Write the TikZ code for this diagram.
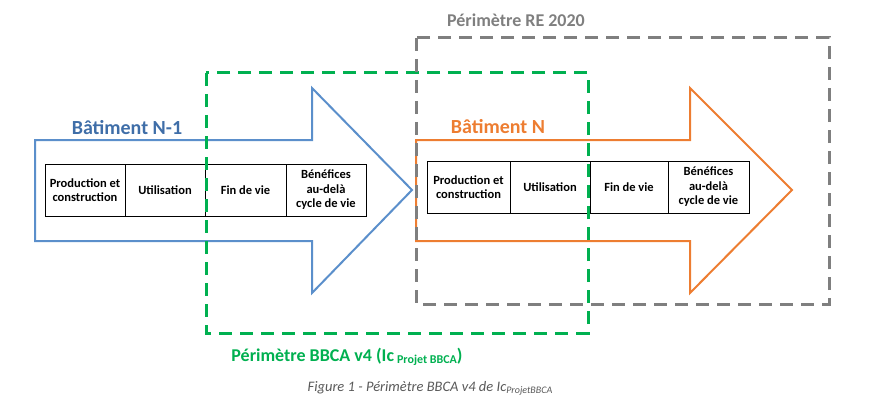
\documentclass[tikz,border=0pt]{standalone}
\usepackage{fontspec}
\setmainfont{Carlito}
\definecolor{cblue}{HTML}{5B8FCB}
\definecolor{tblue}{HTML}{3F6EA8}
\definecolor{corange}{HTML}{ED7D31}
\definecolor{cgreen}{HTML}{00B050}
\definecolor{cgray}{HTML}{7F7F7F}
\begin{document}
\begin{tikzpicture}[x=1pt,y=-1pt,
  cell/.style={draw=black,line width=1pt,minimum height=52pt,align=center,font=\fontsize{12.5}{14.5}\selectfont\bfseries,inner sep=1pt},
  dbox/.style={dash pattern=on 13pt off 8pt,line width=3pt},
  lbl/.style={font=\fontsize{18}{20}\selectfont\bfseries}]
\useasboundingbox (0,0) rectangle (871,412);
% arrows
\draw[cblue,line width=2pt] (35,140) -- (312,140) -- (312,88) -- (412,190) -- (312,293) -- (312,241) -- (35,241) -- cycle;
\draw[corange,line width=2pt] (416,140) -- (690,140) -- (690,88) -- (792,190) -- (690,293) -- (690,241) -- (416,241) -- cycle;
% blue table
\node[cell,minimum width=80pt] (b1) at (85,190) {Production et\\construction};
\node[cell,minimum width=80pt] (b2) at (165,190) {Utilisation};
\node[cell,minimum width=81pt] (b3) at (245.5,190) {Fin de vie};
\node[cell,minimum width=80pt] (b4) at (326,190) {Bénéfices\\au-delà\\cycle de vie};
% orange table
\node[cell,minimum width=83pt] (o1) at (468.5,187) {Production et\\construction};
\node[cell,minimum width=80pt] (o2) at (550,187) {Utilisation};
\node[cell,minimum width=78pt] (o3) at (629,187) {Fin de vie};
\node[cell,minimum width=81pt] (o4) at (708.5,187) {Bénéfices\\au-delà\\cycle de vie};
% dashed perimeters
\draw[cgreen,dbox] (206,73) rectangle (588,333);
\draw[cgray,dbox] (416,38) rectangle (829,304);
% labels
\node[font=\fontsize{20}{22}\selectfont\bfseries,text=tblue] (lb) at (127,128) {Bâtiment N-1};
\node[font=\fontsize{20}{22}\selectfont\bfseries,text=corange] (lo) at (498,127) {Bâtiment N};
\node[lbl,text=cgray] (lg) at (516,20) {Périmètre RE 2020};
\node[lbl,text=cgreen] (lgr) at (347,357) {Périmètre BBCA v4 (Ic\,{\fontsize{12}{14}\selectfont\raisebox{-2pt}{Projet BBCA}})};
\node[text=cgray!70!black,font=\fontsize{14.5}{16}\selectfont\itshape] (cap) at (430,388) {Figure 1 - Périmètre BBCA v4 de Ic{\fontsize{10}{12}\selectfont\raisebox{-2pt}{ProjetBBCA}}};
\end{tikzpicture}
\end{document}
